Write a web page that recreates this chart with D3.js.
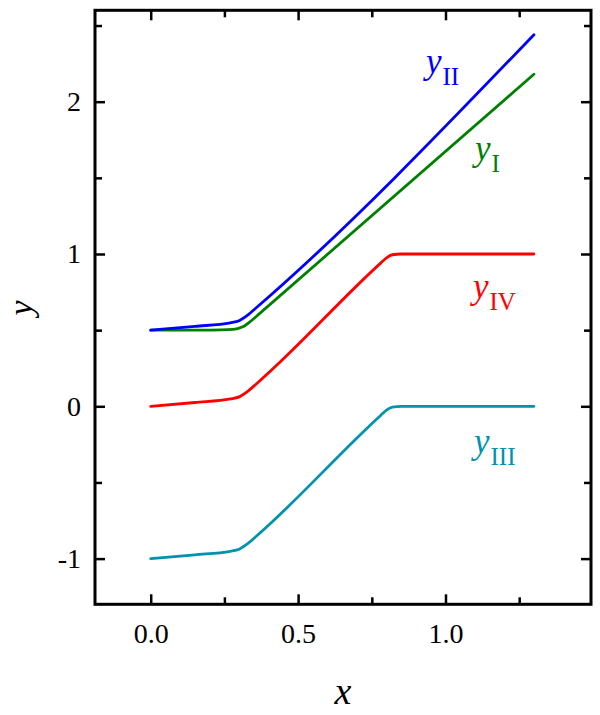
<!DOCTYPE html>
<meta charset="utf-8">
<style>
body { margin: 0; background: #fff; }
svg text { font-family: "Liberation Serif", "Times New Roman", serif; }
.frame { fill: none; stroke: #000; stroke-width: 3px; }
.axis path { display: none; }
.axis line { stroke: #000; stroke-width: 2.5px; }
.axis text { font-size: 28px; fill: #000; }
.curve { fill: none; stroke-width: 2.8px; stroke-linejoin: round; stroke-linecap: round; }
</style>
<body></body>
<script src="https://cdnjs.cloudflare.com/ajax/libs/d3/7.8.5/d3.min.js"></script>
<script>

// values
var xI   = [0, 0.2, 0.28, 0.31, 0.34, 0.37, 1.3];
var yI   = [0.5, 0.5, 0.505, 0.52, 0.56, 0.61, 2.18];
var xII  = [0, 0.15, 0.27, 0.30, 0.33, 0.36, 1.3];
var yII  = [0.5, 0.525, 0.548, 0.562, 0.6, 0.65, 2.44];
var xIII = [0, 0.15, 0.27, 0.30, 0.33, 0.36, 0.78, 0.80, 0.82, 0.85, 1.3];
var yIII = [-1, -0.975, -0.952, -0.938, -0.9, -0.85, -0.06, -0.025, -0.005, 0, 0];
var xIV  = [0, 0.15, 0.27, 0.30, 0.33, 0.36, 0.78, 0.80, 0.82, 0.85, 1.3];
var yIV  = [0, 0.025, 0.048, 0.062, 0.1, 0.15, 0.94, 0.975, 0.995, 1, 1];

var xMajor = [0, 0.5, 1.0], xMinor = [0.25, 0.75, 1.25];
var yMajor = [-1, 0, 1, 2],  yMinor = [-0.5, 0.5, 1.5, 2.5];
var xTickLabels = ["0.0", "0.5", "1.0"];
var yTickLabels = ["-1", "0", "1", "2"];

var series = [
  {name: "I",   xs: xI,   ys: yI,   color: "#008000", lx: 475, ly: 160},
  {name: "II",  xs: xII,  ys: yII,  color: "#0000ff", lx: 426, ly: 73},
  {name: "III", xs: xIII, ys: yIII, color: "#0093ab", lx: 474, ly: 453},
  {name: "IV",  xs: xIV,  ys: yIV,  color: "#ff0000", lx: 473, ly: 298}
];

var width = 600, height = 715;
var pLeft = 95, pRight = 591, pTop = 10.3, pBottom = 604.3;

var svg = d3.select("body").append("svg")
    .attr("width", width)
    .attr("height", height);

var x = d3.scaleLinear().domain([-0.189, 1.4936]).range([pLeft, pRight]);
var y = d3.scaleLinear().domain([-1.3, 2.6]).range([pBottom, pTop]);

// ticks, all pointing inward
svg.append("g").attr("class", "axis")
    .attr("transform", "translate(0," + pBottom + ")")
    .call(d3.axisBottom(x).tickValues(xMajor).tickSize(-10).tickPadding(19)
      .tickFormat(function(d, i) { return xTickLabels[i]; }));
svg.append("g").attr("class", "axis")
    .attr("transform", "translate(0," + pBottom + ")")
    .call(d3.axisBottom(x).tickValues(xMinor).tickSize(-7).tickFormat(""));
svg.append("g").attr("class", "axis")
    .attr("transform", "translate(0," + pTop + ")")
    .call(d3.axisTop(x).tickValues(xMajor).tickSize(-10).tickFormat(""));
svg.append("g").attr("class", "axis")
    .attr("transform", "translate(0," + pTop + ")")
    .call(d3.axisTop(x).tickValues(xMinor).tickSize(-7).tickFormat(""));

svg.append("g").attr("class", "axis")
    .attr("transform", "translate(" + pLeft + ",0)")
    .call(d3.axisLeft(y).tickValues(yMajor).tickSize(-10).tickPadding(14)
      .tickFormat(function(d, i) { return yTickLabels[i]; }));
svg.append("g").attr("class", "axis")
    .attr("transform", "translate(" + pLeft + ",0)")
    .call(d3.axisLeft(y).tickValues(yMinor).tickSize(-7).tickFormat(""));
svg.append("g").attr("class", "axis")
    .attr("transform", "translate(" + pRight + ",0)")
    .call(d3.axisRight(y).tickValues(yMajor).tickSize(-10).tickFormat(""));
svg.append("g").attr("class", "axis")
    .attr("transform", "translate(" + pRight + ",0)")
    .call(d3.axisRight(y).tickValues(yMinor).tickSize(-7).tickFormat(""));

svg.append("rect").attr("class", "frame")
    .attr("x", pLeft).attr("y", pTop)
    .attr("width", pRight - pLeft).attr("height", pBottom - pTop);

var line = d3.line()
    .x(function(d) { return x(d[0]); })
    .y(function(d) { return y(d[1]); })
    .curve(d3.curveMonotoneX);

series.forEach(function(s) {
  var pts = s.xs.map(function(v, i) { return [v, s.ys[i]]; });
  svg.append("path").attr("class", "curve")
      .attr("d", line(pts))
      .attr("stroke", s.color);

  var t = svg.append("text")
      .attr("x", s.lx).attr("y", s.ly)
      .attr("fill", s.color);
  t.append("tspan").attr("font-style", "italic").attr("font-size", 35).text("y");
  t.append("tspan").attr("font-size", 25).attr("dx", 1).attr("dy", 12).text(s.name);
});

// axis titles
svg.append("text")
    .attr("x", 343).attr("y", 704)
    .attr("text-anchor", "middle")
    .attr("font-style", "italic").attr("font-size", 38)
    .text("x");

svg.append("text")
    .attr("transform", "translate(32,308) rotate(-90)")
    .attr("text-anchor", "middle")
    .attr("font-style", "italic").attr("font-size", 34)
    .text("y");

</script>
